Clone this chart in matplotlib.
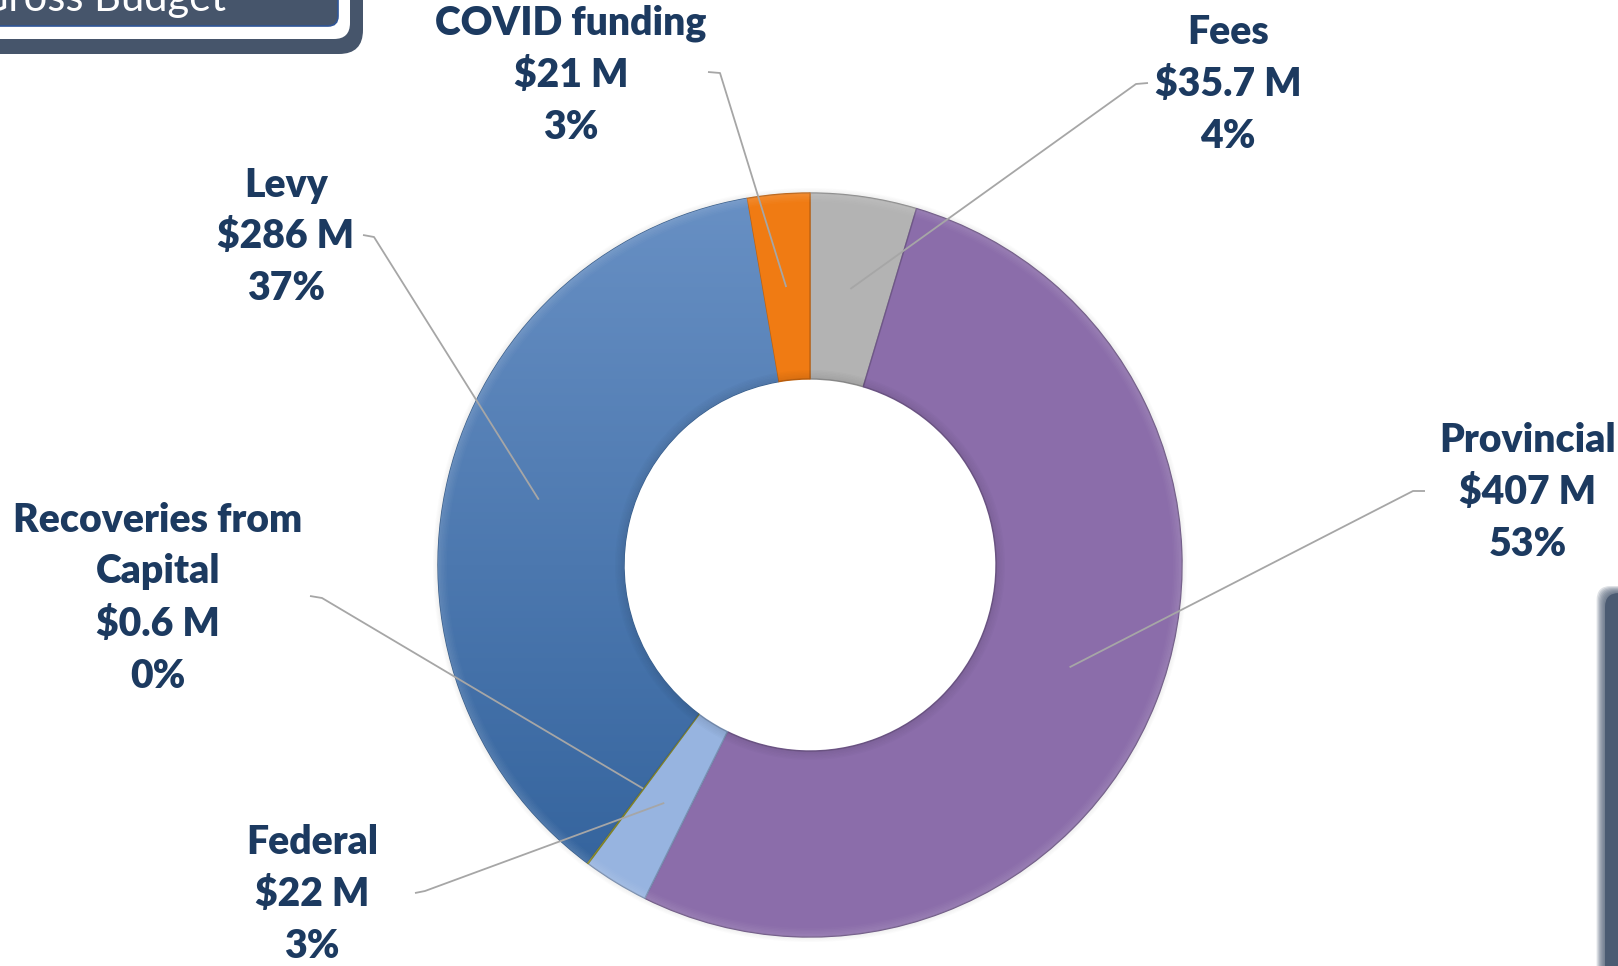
import numpy as np
import matplotlib
matplotlib.use("Agg")
import matplotlib.pyplot as plt
from matplotlib.patches import FancyBboxPatch, Wedge
import matplotlib.colors as mcolors

# ---------------- data ----------------
categories = ["Fees", "Provincial", "Federal", "Recoveries from\nCapital", "Levy", "COVID funding"]
values = [35.7, 407, 22, 0.6, 286, 21]
value_labels = ["$35.7 M", "$407 M", "$22 M", "$0.6 M", "$286 M", "$21 M"]
pct_labels = ["4%", "53%", "3%", "0%", "37%", "3%"]
colors = ["#B3B3B3", "#8B6DAA", "#97B4E0", "#A3A32A", "#4675AE", "#F07B13"]
title_text = "Gross Budget"

# ---------------- layout ----------------
W, H = 1618, 966
fig = plt.figure(figsize=(W / 100, H / 100), dpi=100)
ax = fig.add_axes([0, 0, 1, 1])


def Y(y):
    return H - y


cx, cy = 810, Y(565)
R, ring = 372, 186
text_color = "#1C3A60"
plt.rcParams["font.family"] = ["Lato", "DejaVu Sans"]

edge_cols = [tuple(np.array(mcolors.to_rgb(c)) * 0.8) for c in colors]
wedges, _ = ax.pie(values, colors=colors, startangle=90, counterclock=False,
                   radius=R, center=(cx, cy), frame=True,
                   wedgeprops=dict(width=ring, linewidth=1.0))
for w, ec in zip(wedges, edge_cols):
    w.set_edgecolor(ec)

# vertical gradient on the Levy slice
levy = wedges[4]
grad = np.linspace(0, 1, 256)[:, None]
cmap = mcolors.LinearSegmentedColormap.from_list("lv", ["#30609A", "#6890C4"])
im = ax.imshow(grad, cmap=cmap, origin="lower", aspect="auto",
               extent=(cx - R, cx + R, cy - R, cy + R), zorder=1.5)
im.set_clip_path(levy)

# subtle bevel highlights / shadows on ring edges
for i in range(6):
    ax.add_patch(Wedge((cx, cy), R - i * 1.5, 0, 360, width=1.5,
                       facecolor="white", alpha=0.12 * (6 - i) / 6, lw=0, zorder=3))
    ax.add_patch(Wedge((cx, cy), R - ring + (i + 1) * 1.5, 0, 360, width=1.5,
                       facecolor="black", alpha=0.09 * (6 - i) / 6, lw=0, zorder=3))
for i in range(5):
    ax.add_patch(Wedge((cx, cy), R + 1 + i, 0, 360, width=1,
                       facecolor="#7F7F7F", alpha=0.12 * (5 - i) / 5, lw=0, zorder=1))

ax.set_xlim(0, W)
ax.set_ylim(0, H)
ax.set_aspect("auto")
ax.axis("off")

# ---------------- labels & leader lines ----------------
label_pos = [(1228, 85), (1528, 492), (312, 895), (158, 598), (286, 237), (571, 75)]
hook = [[(1148, 83), (1136, 84)], [(1425, 491), (1413, 491)], [(415, 893), (425, 891)],
        [(310, 596), (322, 598)], [(363, 235), (374, 237)], [(708, 72), (720, 73)]]

total = sum(values)
cum = 0.0
for i, v in enumerate(values):
    mid = (cum + v / 2) / total
    cum += v
    theta = np.deg2rad(90 - 360 * mid)
    rm = R - ring / 2
    ex, ey = cx + rm * np.cos(theta), cy + rm * np.sin(theta)
    xs = [p[0] for p in hook[i]] + [ex]
    ys = [Y(p[1]) for p in hook[i]] + [ey]
    ax.plot(xs, ys, color="#A6A6A6", lw=1.3, zorder=4, solid_capstyle="butt")
    tx, ty = label_pos[i]
    ax.text(tx, Y(ty), f"{categories[i]}\n{value_labels[i]}\n{pct_labels[i]}",
            ha="center", va="center", fontsize=28.2, fontweight="heavy",
            color=text_color, linespacing=1.5, zorder=5)

# ---------------- decorations ----------------
ax.add_patch(FancyBboxPatch((-60, Y(54)), 423, 200, boxstyle="round,pad=0,rounding_size=24",
                            fc="#46556B", ec="none", zorder=6))
ax.add_patch(FancyBboxPatch((-60, Y(39)), 410, 200, boxstyle="round,pad=0,rounding_size=16",
                            fc="white", ec="none", zorder=6))
ax.add_patch(FancyBboxPatch((-60, Y(26)), 398, 200, boxstyle="round,pad=0,rounding_size=10",
                            fc="#46556B", ec="#2F5597", lw=1.2, zorder=6))
ax.text(226, Y(11), title_text, ha="right", va="baseline", fontsize=30,
        color="white", zorder=7)

for k in range(8):
    ax.add_patch(FancyBboxPatch((1605 - k * 1.2, Y(1000)), 60, 1000 - 593 + k,
                                boxstyle="round,pad=0,rounding_size=14",
                                fc="#4B5B72", ec="none", alpha=0.18 if k else 1.0,
                                zorder=6 if k == 0 else 5.9))

fig.savefig("out.png", dpi=100)
